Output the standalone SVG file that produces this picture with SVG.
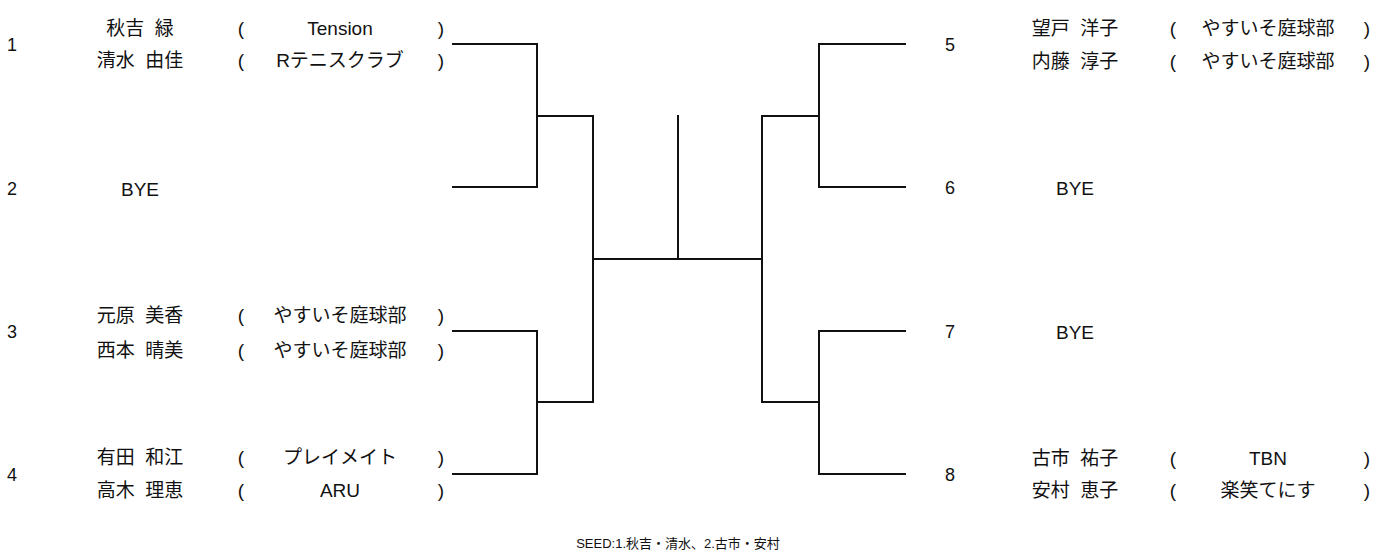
<svg xmlns="http://www.w3.org/2000/svg" width="1377" height="550" viewBox="0 0 1377 550">
<style>
text{font-family:"Liberation Sans","Noto Sans CJK JP",sans-serif;font-size:19px;fill:#111;dominant-baseline:central;text-anchor:middle}
.nm{word-spacing:5px}
.num{font-size:18px}
.seed{font-size:13px}
.ln{stroke:#111;stroke-width:2;fill:none;stroke-linecap:square}
</style>
<rect width="1377" height="550" fill="#fff"/>
<g id="connectors">
<path class="ln" d="M453 44H537V187H453M537 116H593V402H537M453 331H537V474H453M593 259H762M678 116V259"/>
<path class="ln" d="M905 44H819V187H905M819 116H762V402H819M905 331H819V474H905"/>
</g>
<g id="entry1">
<text class="num" x="12" y="45">1</text>
<text class="nm" x="140" y="28">秋吉 緑</text>
<text class="nm" x="140" y="60">清水 由佳</text>
<text x="241" y="28">(</text><text x="340" y="28">Tension</text><text x="441" y="28">)</text>
<text x="241" y="60">(</text><text x="340" y="60">Rテニスクラブ</text><text x="441" y="60">)</text>
</g>
<g id="entry2">
<text class="num" x="12" y="189">2</text>
<text x="140" y="189">BYE</text>
</g>
<g id="entry3">
<text class="num" x="12" y="332">3</text>
<text class="nm" x="140" y="315">元原 美香</text>
<text class="nm" x="140" y="350">西本 晴美</text>
<text x="241" y="315">(</text><text x="340" y="315">やすいそ庭球部</text><text x="441" y="315">)</text>
<text x="241" y="350">(</text><text x="340" y="350">やすいそ庭球部</text><text x="441" y="350">)</text>
</g>
<g id="entry4">
<text class="num" x="12" y="475">4</text>
<text class="nm" x="140" y="457">有田 和江</text>
<text class="nm" x="140" y="490">高木 理恵</text>
<text x="241" y="457">(</text><text x="340" y="457">プレイメイト</text><text x="441" y="457">)</text>
<text x="241" y="490">(</text><text x="340" y="490">ARU</text><text x="441" y="490">)</text>
</g>
<g id="entry5">
<text class="num" x="950" y="45">5</text>
<text class="nm" x="1075" y="28">望戸 洋子</text>
<text class="nm" x="1075" y="61">内藤 淳子</text>
<text x="1173" y="28">(</text><text x="1268" y="28">やすいそ庭球部</text><text x="1367" y="28">)</text>
<text x="1173" y="61">(</text><text x="1268" y="61">やすいそ庭球部</text><text x="1367" y="61">)</text>
</g>
<g id="entry6">
<text class="num" x="950" y="188">6</text>
<text x="1075" y="188">BYE</text>
</g>
<g id="entry7">
<text class="num" x="950" y="332">7</text>
<text x="1075" y="332">BYE</text>
</g>
<g id="entry8">
<text class="num" x="950" y="475">8</text>
<text class="nm" x="1075" y="458">古市 祐子</text>
<text class="nm" x="1075" y="490">安村 恵子</text>
<text x="1173" y="458">(</text><text x="1268" y="458">TBN</text><text x="1367" y="458">)</text>
<text x="1173" y="490">(</text><text x="1268" y="490">楽笑てにす</text><text x="1367" y="490">)</text>
</g>
<g id="seed">
<text class="seed" x="678" y="543">SEED:1.秋吉・清水、2.古市・安村</text>
</g>
</svg>
